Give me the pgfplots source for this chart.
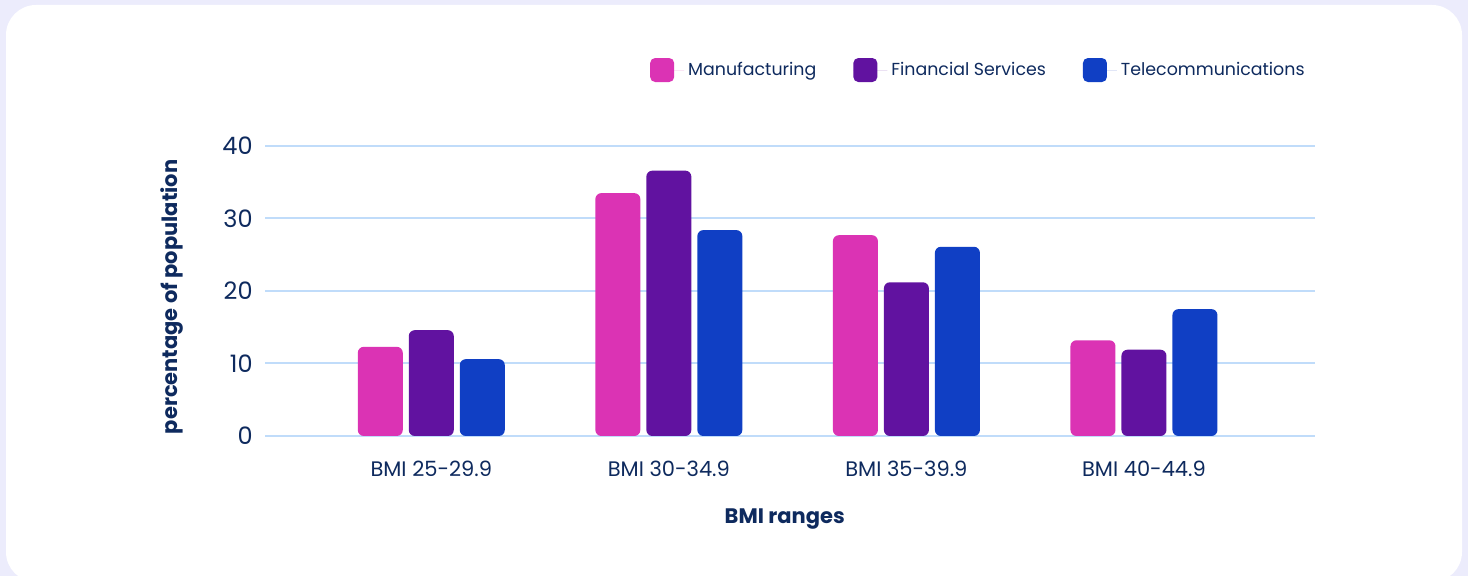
\documentclass[border=0pt]{standalone}
\usepackage{pgfplots}
\pgfplotsset{compat=1.18}
\usepackage{fontspec}
\setmainfont{Poppins}
\definecolor{bgout}{HTML}{ECECFC}
\definecolor{manu}{HTML}{DB33B4}
\definecolor{fin}{HTML}{6112A0}
\definecolor{tele}{HTML}{103FC4}
\definecolor{gridc}{HTML}{C0DCFA}
\definecolor{txt}{HTML}{0E2A5E}
\pgfplotsset{roundleg/.style={legend image code/.code={\fill[##1,rounded corners=2.5pt] (0pt,-6pt) rectangle (12pt,6pt); \path (0pt,0pt) -- (17pt,0pt);}}}
\begin{document}
\begin{tikzpicture}
\fill[bgout] (0,0) rectangle (734pt,288pt);
\fill[white,rounded corners=15pt] (3pt,-3pt) rectangle (731pt,285.5pt);
\begin{axis}[
 at={(132.5pt,70pt)}, anchor=south west,
 scale only axis, width=525pt, height=145pt,
 xmin=-0.7, xmax=3.72, ymin=0, ymax=40,
 ybar=3pt, bar width=22.5pt,
 xtick={0,1,2,3},
 xticklabels={BMI 25-29.9, BMI 30-34.9, BMI 35-39.9, BMI 40-44.9},
 ytick={0,10,20,30,40},
 axis line style={draw=none}, major tick length=0pt,
 ymajorgrids, grid style={draw=gridc, line width=1pt},
 /pgf/number format/assume math mode=true,
 yticklabel style={font=\fontsize{12}{14}\selectfont, text=txt, inner sep=0pt, xshift=-6pt},
 xticklabel style={font=\fontsize{10.5}{12}\selectfont, text=txt, inner sep=0pt, yshift=-12.5pt},
 xlabel={\bfseries BMI ranges},
 xlabel style={font=\fontsize{10.5}{12}\selectfont, text=txt, at={(axis description cs:0.495,0)}, anchor=center, yshift=-41.5pt},
 ylabel={\bfseries percentage of population},
 ylabel style={font=\fontsize{10.5}{12}\selectfont, text=txt, at={(axis description cs:-0.0886,0.48)}, anchor=center},
 roundleg,
 legend columns=3,
 legend style={at={(1.0,1.262)}, anchor=east, draw=none, fill=none,
   font=\fontsize{8.7}{11}\selectfont, text=txt,
   /tikz/every even column/.append style={column sep=16.5pt}},
]
\addplot[fill=manu, draw=none, rounded corners=3pt] coordinates {(0,12.3) (1,33.5) (2,27.7) (3,13.2)};
\addplot[fill=fin, draw=none, rounded corners=3pt] coordinates {(0,14.6) (1,36.6) (2,21.2) (3,11.9)};
\addplot[fill=tele, draw=none, rounded corners=3pt] coordinates {(0,10.6) (1,28.4) (2,26.1) (3,17.5)};
\legend{Manufacturing, Financial Services, Telecommunications}
\end{axis}
\pgfresetboundingbox
\path (0,0) rectangle (734pt,288pt);
\end{tikzpicture}
\end{document}
